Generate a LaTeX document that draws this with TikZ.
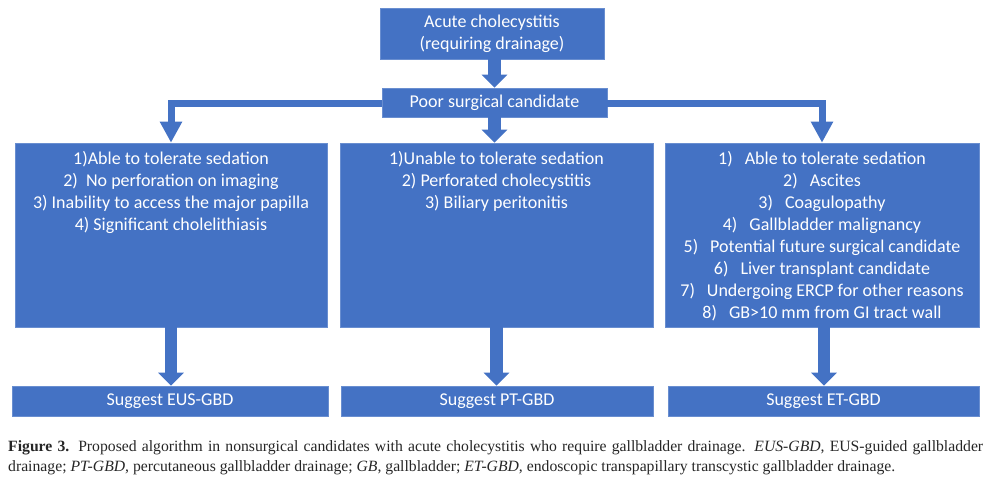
\documentclass[tikz,border=0pt]{standalone}
\usepackage{fontspec}
\setmainfont{Liberation Serif}
\newfontfamily\boxfont{Carlito}
\usepackage{xcolor}
\usetikzlibrary{arrows.meta,positioning}
\definecolor{officeblue}{HTML}{4472C4}

\begin{document}
\begin{tikzpicture}[x=1pt,y=-1pt]
		\tikzstyle{every node}=[font=\boxfont\fontsize{18}{22}\selectfont, text=white]
		\tikzstyle{blk}=[fill=officeblue, draw=officeblue!80!white, line width=0.6pt, inner sep=0pt]
		\tikzstyle{arr}=[officeblue, line width=12.5pt, -{Triangle[width=25pt,length=13pt]}]
		\tikzstyle{elbow}=[officeblue, line width=7pt, line join=miter, -{Triangle[width=21pt,length=21pt]}]
		\tikzstyle{lst}=[inner sep=0pt, align=center]
		\useasboundingbox (0,0) rectangle (991,483);
		\node[blk, minimum width=224pt, minimum height=51pt, align=center] (acute) at (492,33.5) {Acute cholecystitis\\(requiring drainage)};
		\node[blk, minimum width=225pt, minimum height=29pt] (poor) at (494.5,102.5) {Poor surgical candidate};
		\node[blk, minimum width=312pt, minimum height=184pt] (eus) at (171,235) {};
		\node[blk, minimum width=313pt, minimum height=184pt] (pt) at (496.5,235) {};
		\node[blk, minimum width=314pt, minimum height=184pt] (et) at (822,235) {};
		\node[blk, minimum width=316pt, minimum height=30pt] (eusout) at (170,401) {Suggest EUS-GBD};
		\node[blk, minimum width=312pt, minimum height=30pt] (ptout) at (497,401) {Suggest PT-GBD};
		\node[blk, minimum width=311pt, minimum height=30pt] (etout) at (823.5,401) {Suggest ET-GBD};
		\node[lst, below=8pt of eus.north] (euslist) {1)Able to tolerate sedation\\2)\ \ No perforation on imaging\\3) Inability to access the major papilla\\4) Significant cholelithiasis};
		\node[lst, below=8pt of pt.north] (ptlist) {1)Unable to tolerate sedation\\2) Perforated cholecystitis\\3) Biliary peritonitis};
		\node[lst, below=8pt of et.north] (etlist) {1)\hspace{12pt}Able to tolerate sedation\\2)\hspace{12pt}Ascites\\3)\hspace{12pt}Coagulopathy\\4)\hspace{12pt}Gallbladder malignancy\\5)\hspace{12pt}Potential future surgical candidate\\6)\hspace{12pt}Liver transplant candidate\\7)\hspace{12pt}Undergoing ERCP for other reasons\\8)\hspace{12pt}GB>10 mm from GI tract wall};
		\draw[arr] (poor.north |- acute.south) -- (poor.north);
		\draw[arr] (poor.south) -- (poor.south |- pt.north);
		\draw[elbow] ([yshift=-1pt]poor.west) -| (eus.north);
		\draw[elbow] ([yshift=-1pt]poor.east) -| (et.north);
		\draw[arr] (eus.south) -- (eus.south |- eusout.north);
		\draw[arr] (pt.south) -- (pt.south |- ptout.north);
		\draw[arr] ([xshift=2pt]et.south) -- ([xshift=2pt]et.south |- etout.north);
		\node[anchor=north west, inner sep=0pt, text width=975pt, align=justify, text=black!85, font=\fontsize{15.7}{20}\selectfont] (caption) at (8,440) {\textbf{Figure 3.} Proposed algorithm in nonsurgical candidates with acute cholecystitis who require gallbladder drainage. \textit{EUS-GBD}, EUS-guided gallbladder\linebreak drainage; \textit{PT-GBD}, percutaneous gallbladder drainage; \textit{GB}, gallbladder; \textit{ET-GBD}, endoscopic transpapillary transcystic gallbladder drainage.};
	\end{tikzpicture}
\end{document}
